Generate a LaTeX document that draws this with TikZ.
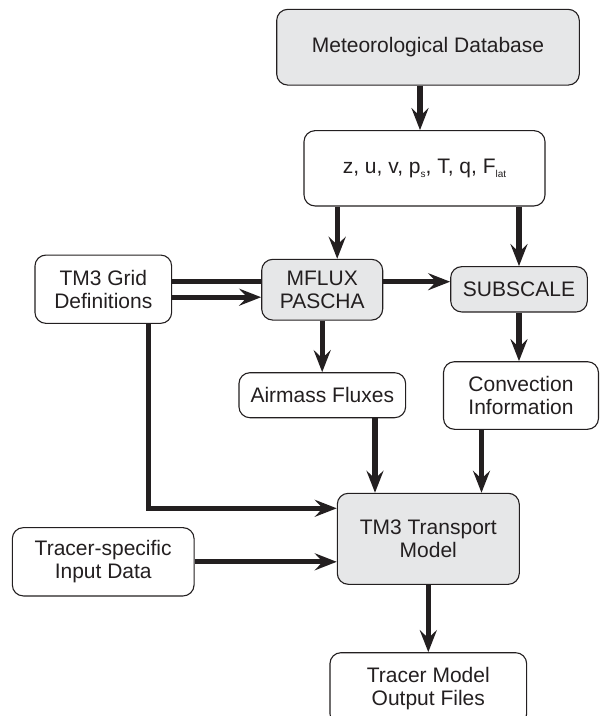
\documentclass[tikz,border=0pt]{standalone}
\usepackage{fontspec}
\setmainfont{Liberation Sans}
\usetikzlibrary{arrows.meta}
\definecolor{boxgray}{HTML}{E6E7E8}
\definecolor{ink}{HTML}{231F20}
\newcommand{\tsub}[1]{\raisebox{-0.4ex}{\fontsize{10}{10}\selectfont #1}}
\begin{document}
\begin{tikzpicture}[x=1pt,y=-1pt,
  box/.style={draw=ink,line width=1.1pt,rounded corners=11pt,fill=white,
    align=center,inner sep=0pt,font=\fontsize{21}{23}\selectfont,text=ink},
  gbox/.style={box,fill=boxgray},
  arr/.style={line width=5.2pt,draw=ink,-{Stealth[length=22pt,width=17pt,inset=8pt]}},
  ln/.style={line width=5.2pt,draw=ink}]
\useasboundingbox (0,0) rectangle (600,716);
\node[gbox,minimum width=302.6pt,minimum height=75.7pt] (met) at (428,47.2) {Meteorological Database};
\node[box,minimum width=241pt,minimum height=75.3pt] (zuv) at (424.5,168.3)
  {z, u, v, p\tsub{s}, T, q, F\tsub{lat}};
\node[box,minimum width=136.7pt,minimum height=68.3pt] (grid) at (103.3,289.2) {TM3 Grid\\Definitions};
\node[gbox,minimum width=121pt,minimum height=60.7pt] (mflux) at (322.2,289.7) {MFLUX\\PASCHA};
\node[gbox,minimum width=136.6pt,minimum height=45.3pt] (sub) at (519,289.3) {SUBSCALE};
\node[box,minimum width=166.7pt,minimum height=45pt] (air) at (322.3,395.2) {Airmass Fluxes};
\node[box,minimum width=155pt,minimum height=67.6pt] (conv) at (521,395.5) {Convection\\Information};
\node[gbox,minimum width=182pt,minimum height=91pt] (tm3) at (428.3,538.8) {TM3 Transport\\Model};
\node[box,minimum width=181.7pt,minimum height=68.3pt] (tracer) at (103.2,561.8) {Tracer-specific\\Input Data};
\node[box,minimum width=196.7pt,minimum height=72pt] (out) at (428.3,688.7) {Tracer Model\\Output Files};

\draw[arr] ([xshift=-8pt]met.south) -- ([xshift=-8pt]met.south |- zuv.north);
\draw[arr] ([xshift=15pt]mflux.north |- zuv.south) -- ([xshift=15pt]mflux.north);
\draw[arr] (sub.north |- zuv.south) -- (sub.north);
\draw[ln] ([yshift=7.5pt]grid.east) -- ([yshift=7.5pt]grid.east -| mflux.west);
\draw[arr] ([yshift=-8pt]grid.east) -- ([yshift=-8pt]grid.east -| mflux.west);
\draw[arr] ([yshift=8pt]mflux.east) -- ([yshift=8pt]mflux.east -| sub.west);
\draw[arr] (mflux.south) -- (mflux.south |- air.north);
\draw[arr] (sub.south) -- (sub.south |- conv.north);
\draw[arr] ([xshift=52.7pt]air.south) -- ([xshift=52.7pt]air.south |- tm3.north);
\draw[arr] ([xshift=-39.5pt]conv.south) -- ([xshift=-39.5pt]conv.south |- tm3.north);
\draw[arr] ([xshift=45.5pt]grid.south) |- ([yshift=30.5pt]tm3.west);
\draw[arr] (tracer.east) -- (tracer.east -| tm3.west);
\draw[arr] (tm3.south) -- (tm3.south |- out.north);
\end{tikzpicture}
\end{document}
